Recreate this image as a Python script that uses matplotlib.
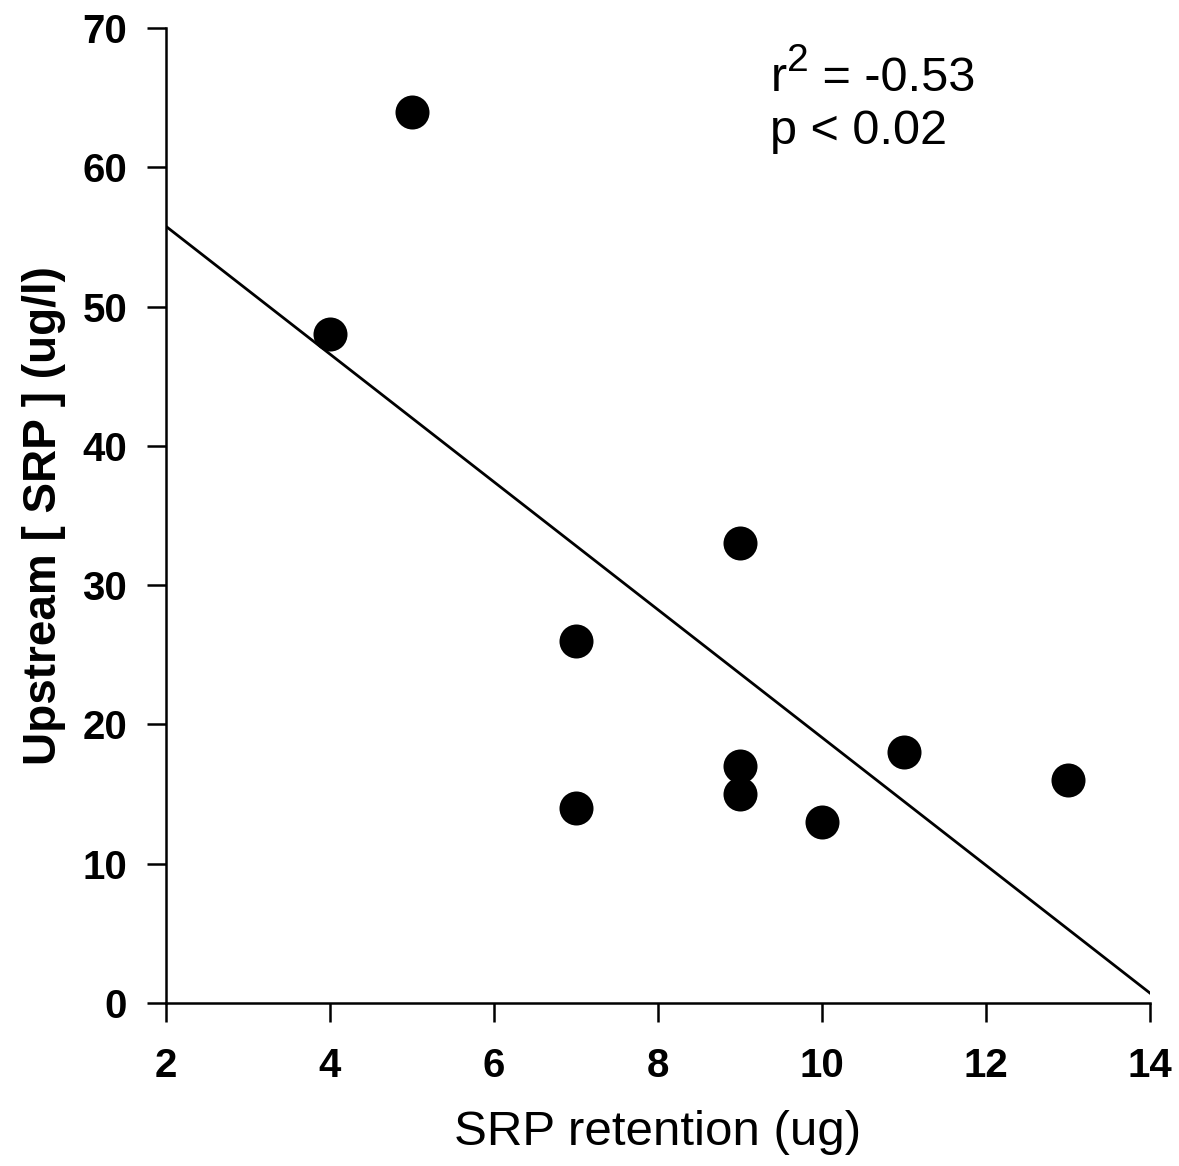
import matplotlib
matplotlib.use("Agg")
import matplotlib.pyplot as plt
import numpy as np
from matplotlib.transforms import offset_copy

srp_retention = [4, 5, 7, 7, 9, 9, 9, 10, 11, 13]
upstream_srp = [48, 64, 26, 14, 33, 17, 15, 13, 18, 16]
x_ticks = [2, 4, 6, 8, 10, 12, 14]
y_ticks = [0, 10, 20, 30, 40, 50, 60, 70]
fit_range = [2, 14]

plt.rcParams['font.family'] = ['Liberation Sans', 'DejaVu Sans']

fig = plt.figure(figsize=(11.79, 11.66), dpi=100)
ax = fig.add_axes([166/1179, 1 - 1003/1166, (1150-166)/1179, (1003-28)/1166])

ax.scatter(srp_retention, upstream_srp, s=600, color='black', zorder=3, linewidths=0)

slope, intercept = np.polyfit(srp_retention, upstream_srp, 1)
xf = np.array(fit_range, dtype=float)
ax.plot(xf, intercept + slope * xf, color='black', lw=2.0, zorder=2)

ax.set_xlim(2, 14)
ax.set_ylim(0, 70)
ax.set_xticks(x_ticks)
ax.set_yticks(y_ticks)
for s in ['top', 'right']:
    ax.spines[s].set_visible(False)
for s in ['left', 'bottom']:
    ax.spines[s].set_linewidth(1.8)
ax.tick_params(axis='both', direction='out', length=14, width=1.8, labelsize=29)
ax.tick_params(axis='x', pad=18)
ax.tick_params(axis='y', pad=14)
for lab in ax.get_xticklabels() + ax.get_yticklabels():
    lab.set_fontweight('bold')

ax.set_xlabel('SRP retention (ug)', fontsize=35.5, labelpad=18)
ax.set_ylabel('Upstream [ SRP ] (ug/l)', fontsize=33, fontweight='bold', labelpad=12)

fig.canvas.draw()
r_txt = ax.text(9.37, 65.5, 'r', fontsize=35, va='baseline', ha='left')
fig.canvas.draw()
w = r_txt.get_window_extent().width * 72 / fig.dpi
two = ax.text(9.37, 65.5, '2', fontsize=28, va='baseline', ha='left',
              transform=offset_copy(ax.transData, fig=fig, x=w + 0.5, y=14, units='points'))
fig.canvas.draw()
w2 = two.get_window_extent().width * 72 / fig.dpi
ax.text(9.37, 65.5, ' = -0.53', fontsize=35, va='baseline', ha='left',
        transform=offset_copy(ax.transData, fig=fig, x=w + 0.5 + w2, y=0, units='points'))
ax.text(9.37, 61.7, 'p < 0.02', fontsize=35, va='baseline', ha='left')

fig.savefig('out.png', dpi=100)
